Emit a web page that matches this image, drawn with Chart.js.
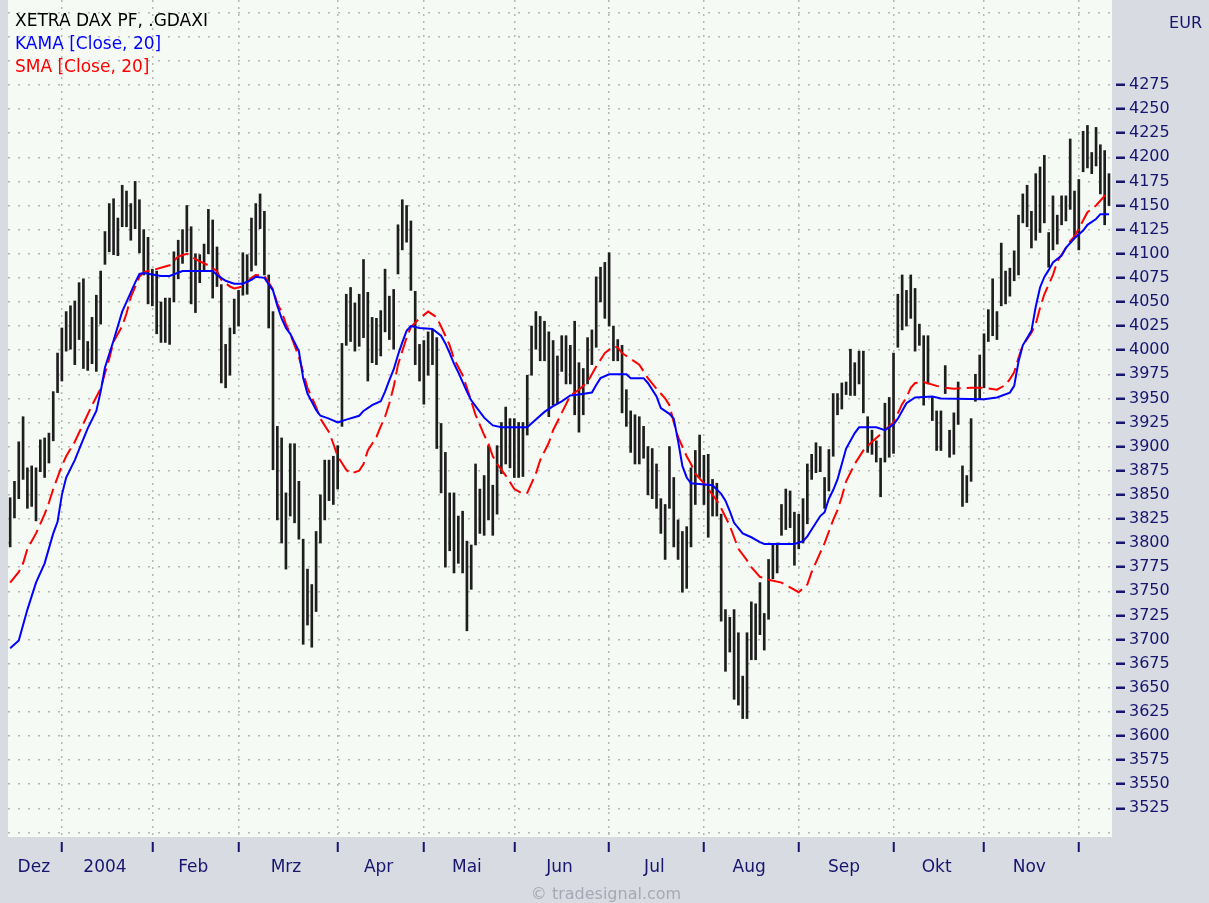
<!DOCTYPE html>
<html>
<head>
<meta charset="utf-8">
<title>XETRA DAX PF, .GDAXI</title>
<script src="https://cdn.jsdelivr.net/npm/chart.js@4.4.1/dist/chart.umd.min.js"></script>
<style>
  html, body { margin: 0; padding: 0; background: #d8dbe2; }
  canvas { display: block; }
</style>
</head>
<body>
<canvas id="dax" width="1209" height="903"></canvas>
<script>
// months of the daily bars (Dez 2003 .. Dez 2004)
const monthLabels = ['Dez', '2004', 'Feb', 'Mrz', 'Apr', 'Mai', 'Jun', 'Jul', 'Aug', 'Sep', 'Okt', 'Nov', ''];
const monthLengths = [12, 21, 20, 23, 20, 21, 22, 22, 22, 22, 21, 22, 8];

// daily high / low, one per trading day
const highs = [
    3847, 3864, 3905, 3931, 3878, 3880, 3878, 3907, 3909, 3914,
    3957, 3997, 4023, 4040, 4046, 4051, 4070, 4074, 4009, 4034,
    4057, 4082, 4123, 4152, 4157, 4137, 4171, 4165, 4152, 4175,
    4156, 4125, 4117, 4084, 4082, 4050, 4054, 4054, 4102, 4114,
    4125, 4150, 4128, 4100, 4099, 4110, 4146, 4135, 4107, 4068,
    4006, 4023, 4053, 4062, 4101, 4099, 4137, 4152, 4162, 4144,
    4078, 4040, 3921, 3909, 3852, 3903, 3903, 3864, 3804, 3773,
    3757, 3812, 3850, 3886, 3886, 3890, 3901, 4007, 4058, 4065,
    4049, 4058, 4094, 4060, 4034, 4033, 4041, 4084, 4056, 4063,
    4130, 4156, 4150, 4134, 4061, 4006, 4010, 4019, 4021, 4013,
    3924, 3894, 3852, 3852, 3828, 3833, 3802, 3798, 3882, 3856,
    3870, 3901, 3860, 3901, 3925, 3941, 3929, 3929, 3925, 3925,
    3974, 4025, 4040, 4035, 4030, 4019, 4010, 3994, 4015, 4015,
    4005, 4030, 3987, 3981, 4013, 4021, 4076, 4086, 4091, 4101,
    4025, 4011, 4005, 3959, 3937, 3933, 3931, 3921, 3900, 3898,
    3882, 3846, 3840, 3900, 3868, 3824, 3812, 3817, 3878, 3896,
    3912, 3891, 3892, 3866, 3862, 3830, 3731, 3723, 3731, 3707,
    3662, 3707, 3739, 3737, 3759, 3727, 3783, 3798, 3800, 3840,
    3856, 3854, 3832, 3830, 3846, 3882, 3892, 3904, 3900, 3868,
    3897, 3955, 3955, 3966, 3967, 4001, 3987, 3999, 3999, 3931,
    3917, 3906, 3888, 3945, 3951, 3997, 4058, 4078, 4062, 4078,
    4064, 4027, 4015, 4015, 3951, 3937, 3937, 3984, 3917, 3935,
    3967, 3880, 3870, 3929, 3975, 3995, 4017, 4042, 4074, 4040,
    4111, 4082, 4085, 4103, 4140, 4162, 4171, 4144, 4183, 4190,
    4202, 4122, 4160, 4140, 4160, 4160, 4219, 4165, 4177, 4227,
    4233, 4205, 4231, 4213, 4207, 4183
];
const lows = [
    3796, 3826, 3846, 3866, 3836, 3838, 3823, 3874, 3868, 3883,
    3906, 3956, 3968, 3999, 4001, 3985, 4011, 3981, 3979, 3986,
    3978, 4027, 4089, 4102, 4099, 4098, 4128, 4128, 4114, 4126,
    4101, 4078, 4048, 4046, 4017, 4008, 4008, 4006, 4050, 4074,
    4090, 4102, 4048, 4039, 4070, 4082, 4100, 4054, 4066, 3966,
    3961, 3974, 4017, 4025, 4057, 4058, 4082, 4088, 4126, 4078,
    4023, 3876, 3824, 3800, 3773, 3828, 3821, 3804, 3695, 3715,
    3692, 3729, 3800, 3824, 3844, 3840, 3856, 3921, 4005, 4009,
    3999, 4004, 4013, 3968, 3987, 3985, 3994, 4019, 4011, 4001,
    4079, 4104, 4112, 4062, 3985, 3968, 3944, 3974, 3985, 3898,
    3852, 3775, 3792, 3769, 3779, 3769, 3709, 3752, 3798, 3810,
    3808, 3824, 3808, 3830, 3872, 3882, 3878, 3868, 3868, 3869,
    3912, 3974, 4001, 3989, 3989, 3931, 3943, 3945, 3978, 3965,
    3965, 3933, 3915, 3933, 3965, 3985, 4003, 4050, 4033, 4025,
    3989, 3989, 3935, 3921, 3894, 3882, 3882, 3888, 3850, 3846,
    3836, 3810, 3783, 3836, 3796, 3783, 3749, 3753, 3796, 3840,
    3868, 3840, 3806, 3828, 3828, 3719, 3667, 3687, 3638, 3632,
    3618, 3618, 3679, 3679, 3705, 3689, 3721, 3763, 3769, 3808,
    3814, 3816, 3777, 3794, 3800, 3820, 3866, 3873, 3874, 3836,
    3854, 3890, 3933, 3939, 3954, 3953, 3953, 3965, 3935, 3894,
    3892, 3884, 3848, 3884, 3889, 3893, 4003, 4021, 4025, 4033,
    3999, 4005, 3943, 3965, 3927, 3896, 3896, 3955, 3889, 3892,
    3923, 3838, 3842, 3864, 3947, 3949, 3961, 4009, 4015, 4011,
    4046, 4048, 4056, 4072, 4078, 4132, 4128, 4106, 4114, 4122,
    4132, 4086, 4104, 4110, 4130, 4134, 4146, 4118, 4104, 4185,
    4189, 4183, 4191, 4162, 4130, 4150
];

// KAMA [Close, 20] read at bar indices
const kamaX = [
    0, 2, 4, 6, 8, 10, 11, 12, 13, 15, 17, 18, 20, 21, 22, 24, 26, 28, 29, 30,
    31, 35, 37, 40, 47, 48, 50, 52, 54, 56, 57, 59, 61, 62, 63, 64, 65, 67, 68, 69,
    71, 72, 74, 76, 78, 81, 82, 84, 86, 87, 88, 89, 90, 91, 92, 93, 95, 98, 100, 101,
    102, 103, 104, 106, 107, 108, 110, 112, 114, 120, 122, 124, 126, 128, 130, 132, 135, 136, 137, 139,
    143, 144, 147, 148, 150, 151, 153, 154, 155, 156, 157, 158, 163, 165, 166, 167, 168, 170, 172, 174,
    175, 182, 184, 185, 186, 188, 189, 190, 191, 192, 193, 194, 196, 197, 201, 203, 205, 206, 208, 210,
    214, 216, 226, 229, 232, 233, 234, 235, 237, 238, 239, 240, 241, 242, 244, 245, 247, 249, 250, 252,
    253, 255
];
const kamaY = [
    3691, 3699, 3731, 3759, 3779, 3810, 3822, 3850, 3868, 3886, 3908, 3919, 3937, 3957, 3982, 4010, 4040, 4060, 4070, 4079,
    4080, 4077, 4077, 4082, 4082, 4078, 4072, 4069, 4069, 4073, 4076, 4075, 4062, 4046, 4033, 4023, 4017, 3999, 3971, 3955,
    3938, 3932, 3929, 3925, 3928, 3932, 3937, 3943, 3947, 3957, 3969, 3980, 3995, 4008, 4020, 4025, 4023, 4022, 4015, 4007,
    3997, 3986, 3977, 3957, 3948, 3942, 3930, 3922, 3920, 3920, 3928, 3936, 3942, 3947, 3953, 3954, 3956, 3964, 3971, 3975,
    3975, 3971, 3971, 3966, 3952, 3940, 3934, 3929, 3906, 3880, 3868, 3862, 3860, 3851, 3844, 3833, 3821, 3810, 3806, 3801,
    3799, 3799, 3802, 3807, 3814, 3828, 3832, 3846, 3855, 3866, 3882, 3898, 3914, 3920, 3920, 3917, 3923, 3929, 3945, 3951,
    3952, 3950, 3949, 3951, 3956, 3963, 3988, 4005, 4020, 4045, 4065, 4076, 4083, 4091, 4098, 4106, 4116, 4124, 4130, 4136,
    4141, 4141
];

// SMA [Close, 20] read at bar indices
const smaX = [
    0, 2, 3, 4, 6, 8, 9, 10, 12, 13, 15, 17, 19, 21, 22, 23, 24, 26, 27, 28,
    30, 31, 33, 37, 39, 41, 42, 44, 46, 48, 49, 51, 52, 54, 56, 57, 59, 61, 62, 63,
    64, 65, 67, 68, 69, 71, 72, 74, 75, 76, 78, 79, 81, 82, 83, 85, 86, 87, 88, 89,
    90, 91, 92, 93, 95, 97, 99, 101, 102, 103, 105, 106, 107, 108, 110, 111, 112, 113, 115, 117,
    119, 120, 122, 123, 125, 126, 128, 130, 132, 134, 135, 136, 138, 140, 141, 142, 144, 146, 148, 150,
    152, 153, 154, 155, 157, 158, 159, 161, 162, 164, 165, 167, 168, 169, 171, 172, 174, 176, 179, 181,
    183, 185, 186, 188, 189, 190, 191, 192, 193, 194, 196, 198, 200, 201, 203, 204, 205, 207, 208, 209,
    210, 212, 215, 217, 219, 223, 226, 229, 231, 232, 233, 234, 235, 237, 238, 239, 240, 242, 243, 245,
    246, 247, 248, 250, 252, 254, 255
];
const smaY = [
    3759, 3770, 3779, 3794, 3810, 3830, 3842, 3856, 3880, 3890, 3905, 3924, 3943, 3960, 3976, 3991, 4009, 4025, 4038, 4055,
    4076, 4081, 4083, 4088, 4097, 4100, 4097, 4092, 4088, 4082, 4073, 4066, 4064, 4066, 4075, 4078, 4077, 4063, 4048, 4040,
    4027, 4017, 3993, 3977, 3961, 3941, 3929, 3915, 3903, 3890, 3876, 3872, 3875, 3882, 3896, 3910, 3921, 3931, 3945, 3962,
    3985, 3999, 4013, 4024, 4033, 4040, 4034, 4015, 4005, 3991, 3974, 3961, 3947, 3933, 3912, 3903, 3890, 3882, 3870, 3856,
    3851, 3852, 3872, 3886, 3904, 3917, 3935, 3953, 3959, 3967, 3975, 3983, 3997, 4004, 4003, 3997, 3991, 3985, 3971, 3960,
    3950, 3943, 3925, 3910, 3890, 3882, 3872, 3862, 3856, 3844, 3836, 3818, 3806, 3794, 3782, 3775, 3765, 3762, 3759, 3754,
    3749, 3757, 3770, 3790, 3800, 3812, 3824, 3834, 3848, 3864, 3882, 3896, 3905, 3909, 3917, 3921, 3925, 3944, 3951, 3961,
    3966, 3967, 3963, 3961, 3960, 3961, 3961, 3959, 3964, 3970, 3977, 3992, 4005, 4018, 4027, 4044, 4058, 4078, 4092, 4106,
    4113, 4118, 4126, 4143, 4150, 4160, 4163
];

// price axis: labelled ticks and extra unlabelled grid rows
const yTicks = [
    3525, 3550, 3575, 3600, 3625, 3650, 3675, 3700, 3725, 3750, 3775, 3800, 3825, 3850, 3875, 3900,
    3925, 3950, 3975, 4000, 4025, 4050, 4075, 4100, 4125, 4150, 4175, 4200, 4225, 4250, 4275
];
const yGridExtra = [3500, 4300, 4325, 4350];
const yMin = 3495.2, yMax = 4363.1;
const xMin = -0.5, xMax = 255.7;

const navy = '#16166e';
const gridColor = '#b6b6b6';
const panelColor = '#d8dbe2';
const plotColor = '#f6faf5';

const monthStarts = [];
let acc = 0;
monthLengths.forEach(n => { monthStarts.push(acc); acc += n; });
const monthMids = monthStarts.map((s, k) => s + (monthLengths[k] - 1) / 2);
const yGrid = [...yGridExtra, ...yTicks].sort((a, b) => a - b);

Chart.defaults.font.family = "'DejaVu Sans', sans-serif";

const decor = {
    id: 'decor',
    beforeDraw(chart) {
        const { ctx, chartArea: a } = chart;
        ctx.save();
        ctx.fillStyle = panelColor;
        ctx.fillRect(0, 0, chart.width, chart.height);
        ctx.fillStyle = plotColor;
        ctx.fillRect(a.left, a.top, a.right - a.left, a.bottom - a.top);
        ctx.restore();
    },
    afterDraw(chart) {
        const ctx = chart.ctx;
        ctx.save();
        ctx.textBaseline = 'alphabetic';
        ctx.font = "17px 'DejaVu Sans'";
        ctx.fillStyle = '#000000';
        ctx.fillText('XETRA DAX PF, .GDAXI', 15, 26);
        ctx.fillStyle = '#0000ff';
        ctx.fillText('KAMA [Close, 20]', 15, 49);
        ctx.fillStyle = '#ff0000';
        ctx.fillText('SMA [Close, 20]', 15, 72);

        ctx.font = "16px 'DejaVu Sans'";
        ctx.fillStyle = navy;
        ctx.textAlign = 'right';
        ctx.fillText('EUR', chart.width - 7, 28);

        ctx.textAlign = 'center';
        ctx.fillStyle = '#a6a9b5';
        ctx.fillText('\u00a9 tradesignal.com', 606, 899);
        ctx.restore();
    }
};

new Chart(document.getElementById('dax'), {
    type: 'bar',
    data: {
        datasets: [
            {
                type: 'line',
                label: 'KAMA [Close, 20]',
                data: kamaX.map((x, k) => ({ x, y: kamaY[k] })),
                xAxisID: 'x',
                borderColor: '#0000ff',
                borderWidth: 2,
                pointRadius: 0,
                tension: 0,
                order: 1
            },
            {
                type: 'line',
                label: 'SMA [Close, 20]',
                data: smaX.map((x, k) => ({ x, y: smaY[k] })),
                xAxisID: 'x',
                borderColor: '#ff0000',
                borderWidth: 2,
                borderDash: [16, 6],
                pointRadius: 0,
                tension: 0,
                order: 2
            },
            {
                type: 'bar',
                label: 'XETRA DAX PF',
                data: highs.map((h, i) => ({ x: i, y: [lows[i], h] })),
                xAxisID: 'x',
                backgroundColor: '#1e1e1e',
                barThickness: 2,
                order: 3
            }
        ]
    },
    options: {
        responsive: false,
        animation: false,
        events: [],
        layout: { autoPadding: false, padding: { left: 8, top: 0, right: 0, bottom: 0 } },
        plugins: {
            legend: { display: false },
            tooltip: { enabled: false }
        },
        scales: {
            x: {
                type: 'linear',
                position: 'bottom',
                min: xMin,
                max: xMax,
                bounds: 'data',
                offset: false,
                weight: 0,
                afterBuildTicks: s => { s.ticks = monthStarts.slice(1).map(v => ({ value: v })); },
                afterFit: s => { s.height = 16; s.paddingLeft = 0; s.paddingRight = 0; },
                ticks: { display: false },
                grid: {
                    offset: false,
                    color: gridColor,
                    lineWidth: 1.5,
                    tickLength: 16,
                    tickWidth: 2,
                    tickColor: navy,
                    tickBorderDash: [0, 5, 10, 0]
                },
                border: { display: false, dash: [2, 5] }
            },
            xMonths: {
                type: 'linear',
                axis: 'x',
                position: 'bottom',
                min: xMin,
                max: xMax,
                bounds: 'data',
                offset: false,
                weight: 1,
                afterBuildTicks: s => { s.ticks = monthMids.map(v => ({ value: v })); },
                afterFit: s => { s.height = 50; s.paddingLeft = 0; s.paddingRight = 0; },
                ticks: {
                    autoSkip: false,
                    maxRotation: 0,
                    padding: 4,
                    color: navy,
                    font: { size: 17 },
                    callback: (v, i) => monthLabels[i]
                },
                grid: { display: false, drawTicks: false, offset: false },
                border: { display: false }
            },
            y: {
                position: 'right',
                min: yMin,
                max: yMax,
                bounds: 'data',
                afterBuildTicks: s => { s.ticks = yGrid.map(v => ({ value: v })); },
                afterFit: s => { s.width = 97; s.paddingTop = 0; s.paddingBottom = 0; },
                ticks: {
                    autoSkip: false,
                    padding: 4,
                    color: navy,
                    font: { size: 16 },
                    callback: v => (yTicks.includes(v) ? String(v) : '')
                },
                grid: {
                    color: gridColor,
                    lineWidth: 1.5,
                    tickLength: 13,
                    tickWidth: 2.5,
                    tickColor: c => (c.tick && yTicks.includes(c.tick.value) ? navy : 'rgba(0,0,0,0)'),
                    tickBorderDash: [0, 4, 9, 0]
                },
                border: { display: false, dash: [2, 8] }
            }
        }
    },
    plugins: [decor]
});
</script>
</body>
</html>
